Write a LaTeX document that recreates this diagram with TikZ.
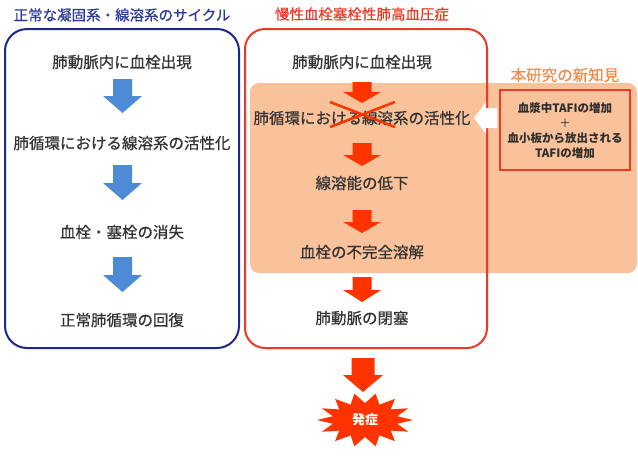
\documentclass[tikz,border=0pt]{standalone}
\usepackage{fontspec}
\setmainfont{Noto Sans CJK JP}
\newfontfamily\jpmed{Noto Sans CJK JP}[FakeBold=0.6]
\definecolor{navy}{HTML}{1B2A8A}
\definecolor{titleblue}{HTML}{2E3A9A}
\definecolor{arrowblue}{HTML}{4F8AD6}
\definecolor{boxred}{HTML}{EC3A26}
\definecolor{arrowred}{HTML}{FF3300}
\definecolor{peach}{HTML}{F9C29A}
\definecolor{orangetxt}{HTML}{F08C4E}
\definecolor{textgray}{HTML}{333333}
\newcommand{\myblockarrow}[7]{%
  \fill[#1] ({#2-#5},#3) -- ({#2+#5},#3) -- ({#2+#5},{#4-#7}) -- ({#2+#6},{#4-#7})
    -- (#2,#4) -- ({#2-#6},{#4-#7}) -- ({#2-#5},{#4-#7}) -- cycle;}
\begin{document}
\begin{tikzpicture}[x=1pt,y=-1pt,
  txt/.style={font=\jpmed\fontsize{15.5}{18}\selectfont, text=textgray, inner sep=0pt},
  smalltxt/.style={font=\fontsize{11.5}{13}\selectfont\bfseries, text=textgray!90!black, inner sep=0pt},
  ttl/.style={font=\jpmed\fontsize{14.5}{17}\selectfont, inner sep=0pt}]
\useasboundingbox[fill=white] (0,0) rectangle (638,456);

% titles
\node[ttl, text=titleblue] (ttlL) at (122,15) {正常な凝固系・線溶系のサイクル};
\node[ttl, text=boxred] (ttlR) at (362,14) {慢性血栓塞栓性肺高血圧症};
\node[ttl, text=orangetxt, font=\jpmed\fontsize{15.5}{18}\selectfont] (ttlN) at (565,75) {本研究の新知見};

% left box
\draw[navy, line width=2pt, rounded corners=22pt] (5,29) rectangle (239,348);
\node[txt] (l1) at (122,62) {肺動脈内に血栓出現};
\node[txt] (l2) at (122,143) {肺循環における線溶系の活性化};
\node[txt] (l3) at (122,232) {血栓・塞栓の消失};
\node[txt] (l4) at (122,320) {正常肺循環の回復};
\myblockarrow{arrowblue}{122.5}{79}{113}{9.5}{19.5}{17}
\myblockarrow{arrowblue}{122.5}{165}{200}{9.5}{19.5}{17}
\myblockarrow{arrowblue}{122.5}{257}{292}{9.5}{19.5}{17}

% orange region
\fill[peach, rounded corners=9pt] (250,83) rectangle (637,273);

% red box
\draw[boxred, line width=2pt, rounded corners=20pt] (245,29) rectangle (487,348);

% inner findings box
\draw[boxred, line width=2pt] (500,90) rectangle (630,170);
\node[smalltxt] (f1) at (565,108) {血漿中TAFIの増加};
\node[smalltxt, font=\fontsize{11.5}{13}\selectfont] (f2) at (565,123) {＋};
\node[smalltxt] (f3) at (565,138) {血小板から放出される};
\node[smalltxt] (f4) at (565,153) {TAFIの増加};

% white arrow from findings
\fill[white] (497,108) -- (486,108) -- (486,102) -- (474,118) -- (486,134) -- (486,128) -- (497,128) -- cycle;

% middle column
\node[txt] (m1) at (362,62) {肺動脈内に血栓出現};
\node[txt] (m2) at (362,118) {肺循環における線溶系の活性化};
\node[txt] (m3) at (362,183) {線溶能の低下};
\node[txt] (m4) at (362,252) {血栓の不完全溶解};
\node[txt] (m5) at (362,318) {肺動脈の閉塞};
\myblockarrow{arrowred}{362}{82}{103}{9.5}{19}{11}
\myblockarrow{arrowred}{362}{143}{166}{9.5}{19}{11}
\myblockarrow{arrowred}{362}{210}{233}{9.5}{19}{11}
\myblockarrow{arrowred}{362}{277}{302}{9.5}{19}{12}
\myblockarrow{arrowred}{363}{358}{392}{11.5}{20}{17}

% cross-out
\draw[arrowred, line width=2.5pt] (330,102) -- (395,127) (330,127) -- (395,102);

% burst
\fill[arrowred] (413,420)
  \foreach \i in {1,...,27} { -- ({365+(mod(\i,2)==0 ? 48 : 33)*cos(\i*360/28)}, {420+(mod(\i,2)==0 ? 27 : 17)*sin(\i*360/28)}) } -- cycle;
\node[font=\fontsize{13}{15}\selectfont\bfseries, text=white, inner sep=0pt] (onset) at (365,420) {発症};
\end{tikzpicture}
\end{document}
